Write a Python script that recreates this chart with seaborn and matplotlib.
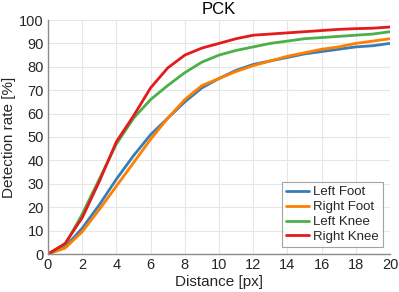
import numpy as np
import pandas as pd
import seaborn as sns
import matplotlib
matplotlib.use("Agg")
import matplotlib.pyplot as plt

distance = list(range(21))
left_foot = [0, 3, 11, 21, 32, 42, 51, 58, 65, 71, 75, 78.5, 81, 82.5, 84, 85.5, 86.5, 87.5, 88.5, 89, 90]
right_foot = [0, 2.5, 9.5, 19, 29, 39, 49, 58, 66, 72, 75, 78, 80.5, 82.5, 84.5, 86, 87.5, 88.5, 90, 91, 92]
left_knee = [0, 4, 17, 32, 47, 58, 66, 72, 77.5, 82, 85, 87, 88.5, 90, 91, 92, 92.5, 93, 93.5, 94, 95]
right_knee = [0, 4.5, 15.5, 31, 48, 59, 71, 79.5, 85, 88, 90, 92, 93.5, 94, 94.5, 95, 95.5, 96, 96.3, 96.5, 97]
series_names = ["Left Foot", "Right Foot", "Left Knee", "Right Knee"]
colors = ["#377eb8", "#ff7f00", "#4daf4a", "#e41a1c"]

df = pd.concat([
    pd.DataFrame({"Distance": distance, "Rate": vals, "Joint": name})
    for name, vals in zip(series_names, [left_foot, right_foot, left_knee, right_knee])
])

sns.set_style("white")
plt.rcParams['font.family'] = ['Liberation Sans', 'DejaVu Sans']

fig = plt.figure(figsize=(3.99, 2.92), dpi=100)
ax = fig.add_axes([48/399, 38/292, 342/399, 234/292])
sns.lineplot(data=df, x="Distance", y="Rate", hue="Joint", palette=colors,
             linewidth=2, ax=ax, legend=True)
ax.set_xlim(0, 20)
ax.set_ylim(0, 100)
ax.set_xticks(range(0, 21, 2))
ax.set_yticks(range(0, 101, 10))
ax.grid(True, color="#e6e6e6", linewidth=0.8)
for s in ["top", "right"]:
    ax.spines[s].set_visible(False)
for s in ["left", "bottom"]:
    ax.spines[s].set_color("#8c8c8c")
    ax.spines[s].set_linewidth(1)
ax.tick_params(direction="in", length=3, color="#8c8c8c", labelsize=10.5, labelcolor="#262626", pad=3)
ax.set_xlabel("Distance [px]", fontsize=11, color="#262626", labelpad=2)
ax.set_ylabel("Detection rate [%]", fontsize=11, color="#262626", labelpad=2)
ax.set_title("PCK", fontsize=12, color="#000000", pad=4)
leg = ax.legend(loc="lower right", fontsize=9.5, frameon=True, fancybox=False,
                edgecolor="#8c8c8c", handlelength=1.8, handletextpad=0.3,
                labelspacing=0.2, borderpad=0.3, borderaxespad=0,
                bbox_to_anchor=(0.98, 0.03))
leg.get_frame().set_linewidth(0.8)
fig.savefig("out.png", dpi=100)
